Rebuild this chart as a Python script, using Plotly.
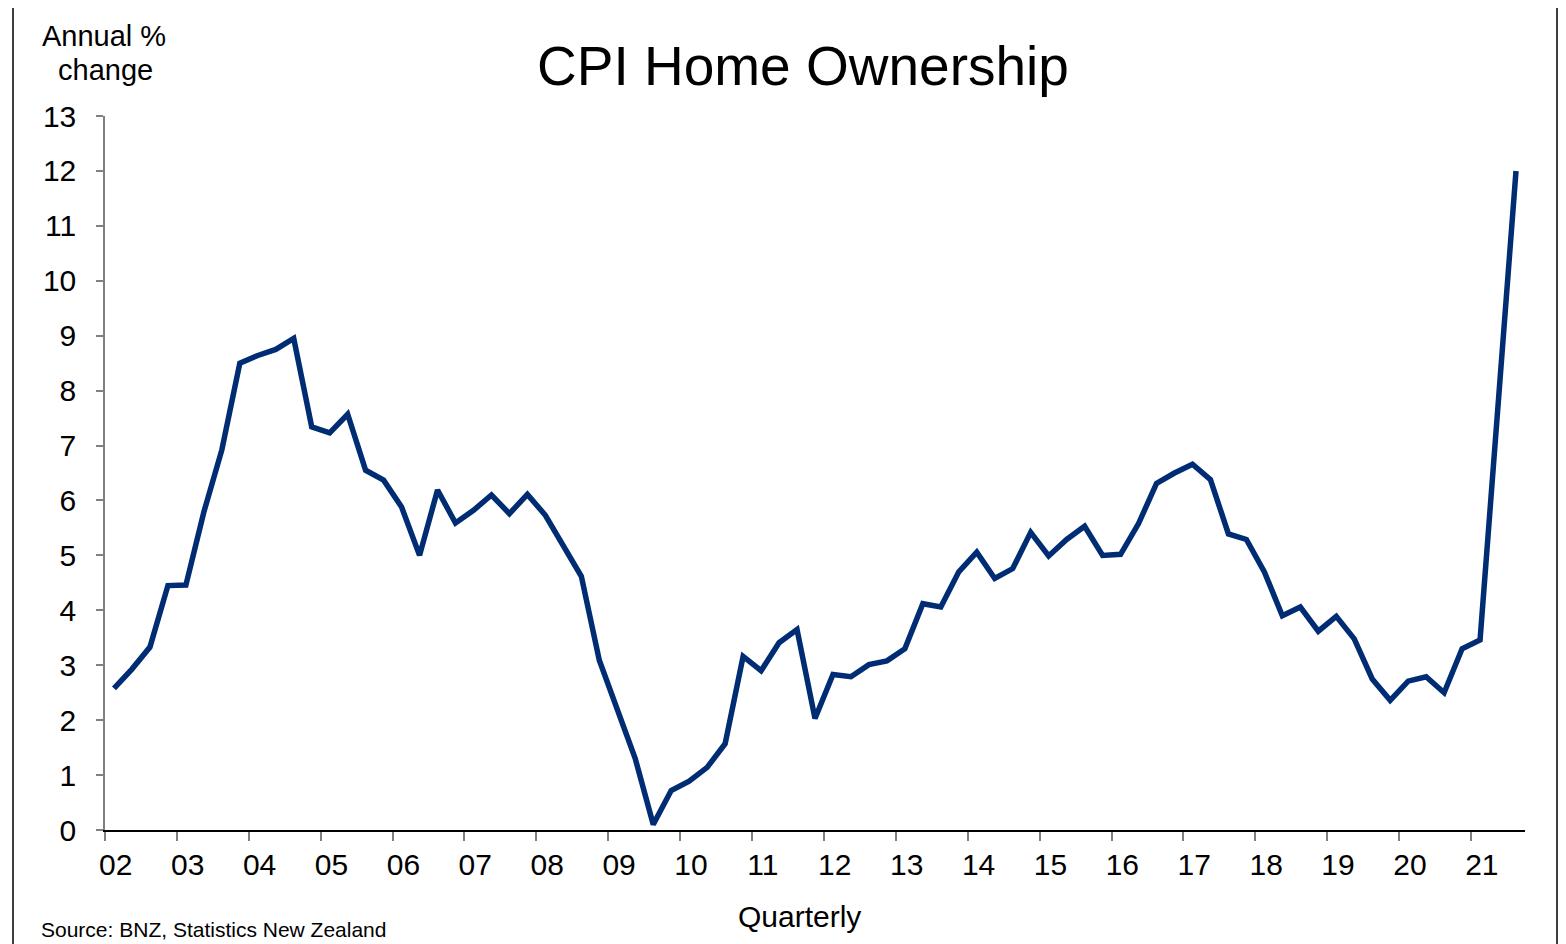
import plotly.graph_objects as go
import pandas as pd

# ---- data ----
quarters = [str(p) for p in pd.period_range("2002Q1", "2021Q3", freq="Q")]
cpi_home_ownership = [
    2.58, 2.93, 3.33, 4.45, 4.46, 5.79, 6.92, 8.50,
    8.64, 8.75, 8.95, 7.34, 7.23, 7.57, 6.55, 6.37,
    5.88, 5.00, 6.19, 5.59, 5.82, 6.10, 5.76, 6.11,
    5.73, 5.15, 4.62, 3.09, 2.21, 1.30, 0.10, 0.72,
    0.89, 1.14, 1.57, 3.16, 2.90, 3.41, 3.65, 2.03,
    2.83, 2.79, 3.01, 3.08, 3.30, 4.12, 4.06, 4.70,
    5.06, 4.58, 4.76, 5.42, 4.99, 5.29, 5.53, 5.00,
    5.02, 5.58, 6.31, 6.50, 6.66, 6.38, 5.39, 5.29,
    4.70, 3.90, 4.06, 3.62, 3.89, 3.48, 2.75, 2.36,
    2.71, 2.79, 2.50, 3.30, 3.46, 7.74, 12.00,
]
year_labels = ["02", "03", "04", "05", "06", "07", "08", "09", "10", "11",
               "12", "13", "14", "15", "16", "17", "18", "19", "20", "21"]
y_ticks = list(range(0, 14))

# ---- layout constants (page pixels; the page body adds an 8px offset) ----
OFF = 8
PAGE_W, PAGE_H = 1566, 944
W, H = PAGE_W - OFF, PAGE_H - OFF
PL, PR, PT, PB = 105, 1525, 116, 830          # plot area in page pixels
ML, MR, MT, MB = PL - OFF, PAGE_W - PR, PT - OFF, PAGE_H - PB
PW, PH = PR - PL, PB - PT
FONT = "Liberation Sans, Arial, sans-serif"
LINE_COLOR = "#002C73"


def px_x(x):
    return (x - PL) / PW


def px_y(y):
    return (PB - y) / PH


x_idx = list(range(len(quarters)))
label_pos = [4 * k + 0.1 for k in range(len(year_labels))]
boundary_pos = [4 * k - 0.5 for k in range(len(year_labels))]

fig = go.Figure()
fig.add_trace(go.Scatter(
    x=x_idx, y=cpi_home_ownership, mode="lines",
    line=dict(color=LINE_COLOR, width=5.5),
    text=quarters, hoverinfo="text+y", showlegend=False,
))

fig.update_layout(
    width=W, height=H,
    margin=dict(l=ML, r=MR, t=MT, b=MB, pad=0),
    paper_bgcolor="white", plot_bgcolor="white",
    font=dict(family=FONT, color="black"),
    xaxis=dict(
        range=[-0.5, len(quarters) - 0.5],
        tickmode="array", tickvals=label_pos, ticktext=year_labels,
        ticks="", showgrid=False, zeroline=False,
        showline=True, linecolor="black", linewidth=1.5,
        tickfont=dict(size=30, family=FONT, color="black"),
        ticklabelstandoff=7,
        minor=dict(tickmode="array", tickvals=boundary_pos, ticks="outside",
                   ticklen=9, tickcolor="#808080", tickwidth=1.5, showgrid=False),
    ),
    yaxis=dict(
        range=[0, 13], tickmode="array", tickvals=y_ticks,
        ticks="outside", ticklen=7, tickcolor="#808080", tickwidth=1.5,
        showgrid=False, zeroline=False,
        showline=True, linecolor="#808080", linewidth=1.5,
        tickfont=dict(size=30, family=FONT, color="black"),
        ticklabelstandoff=14,
    ),
)

annotations = [
    dict(text="CPI Home Ownership", x=803, y=66, size=55),
    dict(text="Annual %", x=104, y=36, size=29),
    dict(text="change", x=105, y=70, size=29),
    dict(text="Quarterly", x=799, y=916, size=30),
    dict(text="Source: BNZ, Statistics New Zealand", x=213, y=929, size=21),
]
for a in annotations:
    fig.add_annotation(xref="paper", yref="paper", showarrow=False,
                       xanchor="center", yanchor="middle",
                       font=dict(family=FONT, color="black", size=a["size"]),
                       text=a["text"], x=px_x(a["x"]), y=px_y(a["y"]))

# outer chart border (bottom edge lies just below the visible page)
fig.add_shape(type="rect", xref="paper", yref="paper",
              x0=px_x(13), x1=px_x(1557), y0=px_y(960), y1=px_y(5),
              line=dict(color="black", width=1.5), fillcolor="rgba(0,0,0,0)", layer="below")

fig.write_html("out.html")
